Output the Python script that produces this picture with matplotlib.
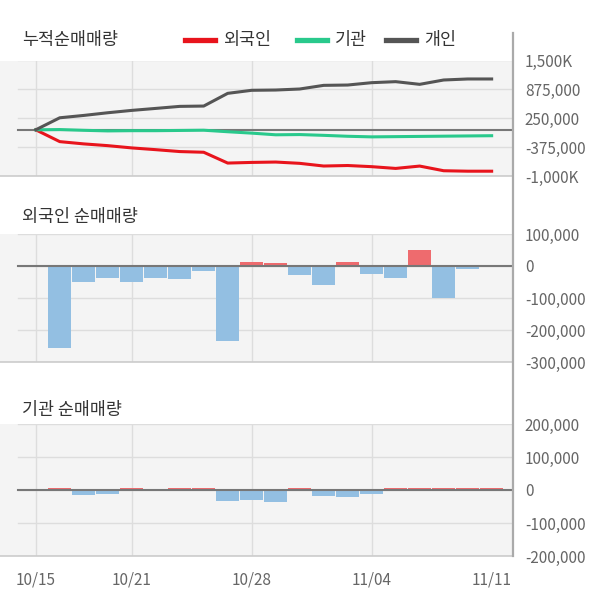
import numpy as np
import matplotlib
matplotlib.use("Agg")
import matplotlib.pyplot as plt
from matplotlib.lines import Line2D

plt.rcParams['font.family'] = ['Noto Sans CJK KR', 'DejaVu Sans']

# trading days shown on the chart
DATES = ['10/15', '10/16', '10/17', '10/18', '10/21', '10/22', '10/23', '10/24',
         '10/25', '10/28', '10/29', '10/30', '10/31', '11/01', '11/04', '11/05',
         '11/06', '11/07', '11/08', '11/11']
XTICK_DAYS = [0, 4, 9, 14, 19]
GRID_DAYS = [0, 4, 9, 14]

# daily net buying volume (shares)
FOREIGN = [0, -256000, -49000, -38000, -49000, -38000, -41000, -15000, -234000,
           14000, 8000, -28000, -58000, 11000, -25000, -38000, 51000, -101000,
           -10000, 0]
INSTITUTION = [0, 5000, -16000, -13000, 5000, 0, 5000, 5000, -33000, -30000,
               -36000, 5000, -17000, -20000, -13000, 5000, 5000, 5000, 5000, 5000]
INDIVIDUAL = [0, 260000, 51000, 58000, 51000, 43000, 44000, 7000, 275000, 66000,
              6000, 22000, 79000, 7000, 51000, 22000, -58000, 94000, 22000, 0]

CUM_TICKS = [1500000, 875000, 250000, -375000, -1000000]
CUM_LABELS = ['1,500K', '875,000', '250,000', '-375,000', '-1,000K']
FOR_TICKS = [100000, 0, -100000, -200000, -300000]
FOR_LABELS = ['100,000', '0', '-100,000', '-200,000', '-300,000']
INST_TICKS = [200000, 100000, 0, -100000, -200000]
INST_LABELS = ['200,000', '100,000', '0', '-100,000', '-200,000']

RED = '#e8141c'
GREEN = '#29c98c'
GRAY = '#555555'
BAR_POS = '#ee6b6e'
BAR_NEG = '#93bfe2'

W, H = 600, 604


def fx(px):
    return px / W


def fy(py):
    return 1 - py / H


def setup_panel(ax, ticks, labels):
    ax.set_facecolor('#f4f4f4')
    ax.set_xlim(-1.49, 19.89)
    ax.set_ylim(min(ticks), max(ticks))
    for t in ticks:
        ax.axhline(t, xmin=18 / 513, color='#dddddd', lw=1, zorder=0)
    for d in GRID_DAYS:
        ax.axvline(d, color='#dddddd', lw=1, zorder=0)
    ax.axhline(0, xmin=18 / 513, color='#777777', lw=1.5, zorder=3)
    ax.yaxis.tick_right()
    ax.set_yticks(ticks)
    ax.set_yticklabels(labels)
    ax.tick_params(axis='y', length=0, pad=8.5, labelsize=11, labelcolor='#666666')
    for side in ['top', 'left', 'right']:
        ax.spines[side].set_visible(False)
    ax.spines['bottom'].set_color('#cccccc')
    ax.spines['bottom'].set_linewidth(1.2)
    ax.set_xticks([])


def draw_bars(ax, values):
    x = np.arange(len(values))
    vals = np.array(values)
    colors = [BAR_POS if v > 0 else BAR_NEG for v in vals]
    ax.bar(x, vals, width=0.95, color=colors, zorder=2)


fig = plt.figure(figsize=(W / 100, H / 100), dpi=100)

ax1 = fig.add_axes([0, fy(176), fx(513), (176 - 60.5) / H])
ax2 = fig.add_axes([0, fy(362), fx(513), (362 - 234) / H])
ax3 = fig.add_axes([0, fy(556), fx(513), (556 - 424) / H])

# cumulative panel
setup_panel(ax1, CUM_TICKS, CUM_LABELS)
x = np.arange(len(DATES))
ax1.plot(x, np.cumsum(FOREIGN), color=RED, lw=2.2, zorder=4)
ax1.plot(x, np.cumsum(INSTITUTION), color=GREEN, lw=2.2, zorder=4)
ax1.plot(x, np.cumsum(INDIVIDUAL), color=GRAY, lw=2.2, zorder=4)

# daily panels
setup_panel(ax2, FOR_TICKS, FOR_LABELS)
draw_bars(ax2, FOREIGN)
setup_panel(ax3, INST_TICKS, INST_LABELS)
draw_bars(ax3, INSTITUTION)

ax3.set_xticks(XTICK_DAYS)
ax3.set_xticklabels([DATES[d] for d in XTICK_DAYS])
ax3.tick_params(axis='x', length=0, pad=11, labelsize=11, labelcolor='#666666')

# right axis line
fig.add_artist(Line2D([fx(513), fx(513)], [fy(33), fy(556)],
                      transform=fig.transFigure, color='#aaaaaa', lw=1.6))

# titles
title_kw = dict(fontsize=12.5, color='#333333', va='center', ha='left')
fig.text(fx(22), fy(40), '누적순매매량', **title_kw)
fig.text(fx(22), fy(217), '외국인 순매매량', **title_kw)
fig.text(fx(22), fy(410), '기관 순매매량', **title_kw)

# legend
legend_items = [(185, '외국인', RED), (297, '기관', GREEN), (386, '개인', GRAY)]
for x0, name, col in legend_items:
    fig.add_artist(Line2D([fx(x0), fx(x0 + 30)], [fy(40), fy(40)],
                          transform=fig.transFigure, color=col, lw=3.8))
    fig.text(fx(x0 + 38), fy(40), name, **title_kw)

fig.savefig('out.png', dpi=100)
